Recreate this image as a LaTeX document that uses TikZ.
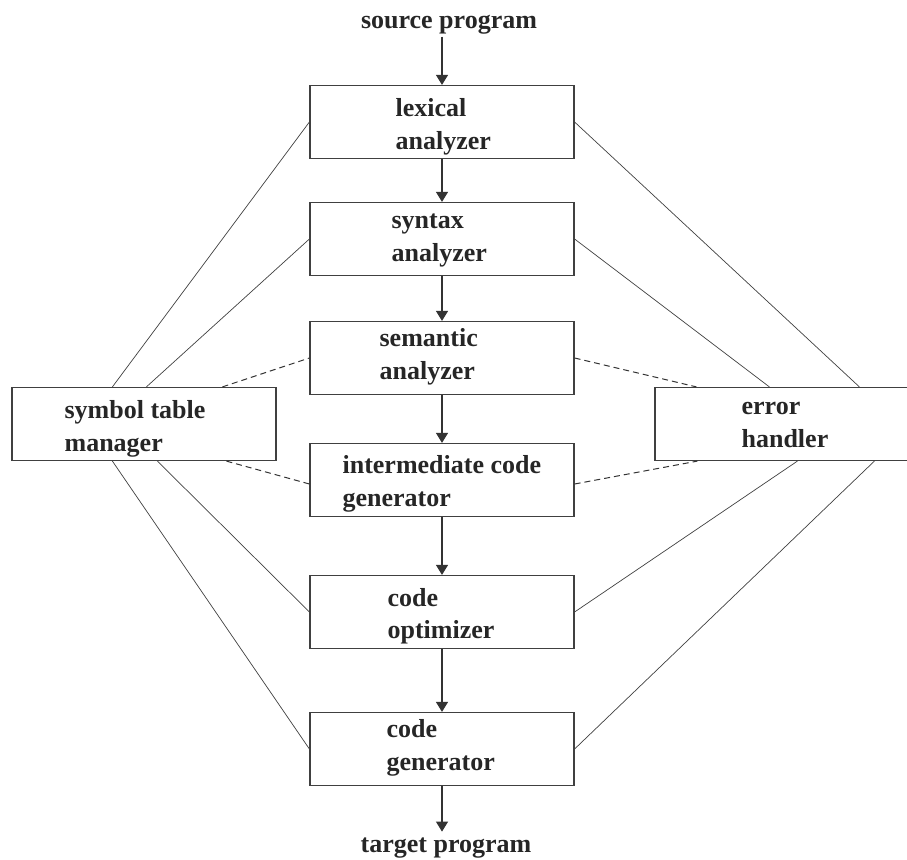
\documentclass[tikz,border=0pt]{standalone}
\usepackage{fontspec}
\setmainfont{Liberation Serif}
\usetikzlibrary{arrows.meta}

\begin{document}
\begin{tikzpicture}[x=1pt, y=-1pt,
    stage/.style={draw=black!75, line width=1.2pt, minimum width=264pt, minimum height=73pt, inner sep=0pt},
    lbl/.style={font=\fontsize{26}{32.5}\selectfont\bfseries, text=black!85, align=left, inner sep=0pt, anchor=west},
    flow/.style={-{Triangle[length=10pt,width=12pt]}, line width=1.1pt, black!80},
    link/.style={line width=0.7pt, black!75},
    dlink/.style={line width=1pt, black!80, dash pattern=on 6pt off 4pt}]

    % page
    \path[use as bounding box, clip] (0,0) rectangle (907,859);

    % Phases
    \node[stage] (lex) at (442,122) {};
    \node[stage] (syn) at (442,239) {};
    \node[stage] (sem) at (442,358) {};
    \node[stage] (inter) at (442,480) {};
    \node[stage] (opt) at (442,612) {};
    \node[stage] (gen) at (442,749) {};

    % Side boxes
    \node[stage] (sym) at (144,424) {};
    \node[stage, minimum width=262pt] (err) at (786,424) {};

    % Labels
    \node[lbl] (lexT) at ([xshift=86pt, yshift=-5pt]lex.west) {lexical\\analyzer};
    \node[lbl] (synT) at ([xshift=82pt, yshift=-1.5pt]syn.west) {syntax\\analyzer};
    \node[lbl] (semT) at ([xshift=70pt, yshift=1pt]sem.west) {semantic\\analyzer};
    \node[lbl] (interT) at ([xshift=33pt, yshift=-4pt]inter.west) {intermediate code\\generator};
    \node[lbl] (optT) at ([xshift=78pt, yshift=-4pt]opt.west) {code\\optimizer};
    \node[lbl] (genT) at ([xshift=77pt, yshift=1pt]gen.west) {code\\generator};
    \node[lbl] (symT) at ([xshift=53pt, yshift=-5pt]sym.west) {symbol table\\manager};
    \node[lbl] (errT) at ([xshift=87pt, yshift=-1pt]err.west) {error\\handler};

    % Input and output
    \node[lbl, anchor=center] (src) at (449,25) {source program};
    \node[lbl, anchor=center] (tgt) at (446,848) {target program};

    % Main flow
    \draw[flow] (src.south -| lex.north) ++(0,2) -- (lex.north);
    \draw[flow] (lex) -- (syn);
    \draw[flow] (syn) -- (sem);
    \draw[flow] (sem) -- (inter);
    \draw[flow] (inter) -- (opt);
    \draw[flow] (opt) -- (gen);
    \draw[flow] (gen.south) -- ([yshift=6pt]tgt.north -| gen.south);

    % Symbol table links
    \draw[link] ([xshift=101pt]sym.north west) -- (lex.west);
    \draw[link] ([xshift=135pt]sym.north west) -- (syn.west);
    \draw[dlink] ([xshift=211pt]sym.north west) -- (sem.west);
    \draw[dlink] ([xshift=215pt]sym.south west) -- ([yshift=-4pt]inter.west);
    \draw[link] ([xshift=146pt]sym.south west) -- (opt.west);
    \draw[link] ([xshift=101pt]sym.south west) -- (gen.west);

    % Error handler links
    \draw[link] (lex.east) -- ([xshift=205pt]err.north west);
    \draw[link] (syn.east) -- ([xshift=115pt]err.north west);
    \draw[dlink] (sem.east) -- ([xshift=42pt]err.north west);
    \draw[dlink] ([yshift=-4pt]inter.east) -- ([xshift=43pt]err.south west);
    \draw[link] (opt.east) -- ([xshift=143pt]err.south west);
    \draw[link] (gen.east) -- ([xshift=220pt]err.south west);

\end{tikzpicture}
\end{document}
